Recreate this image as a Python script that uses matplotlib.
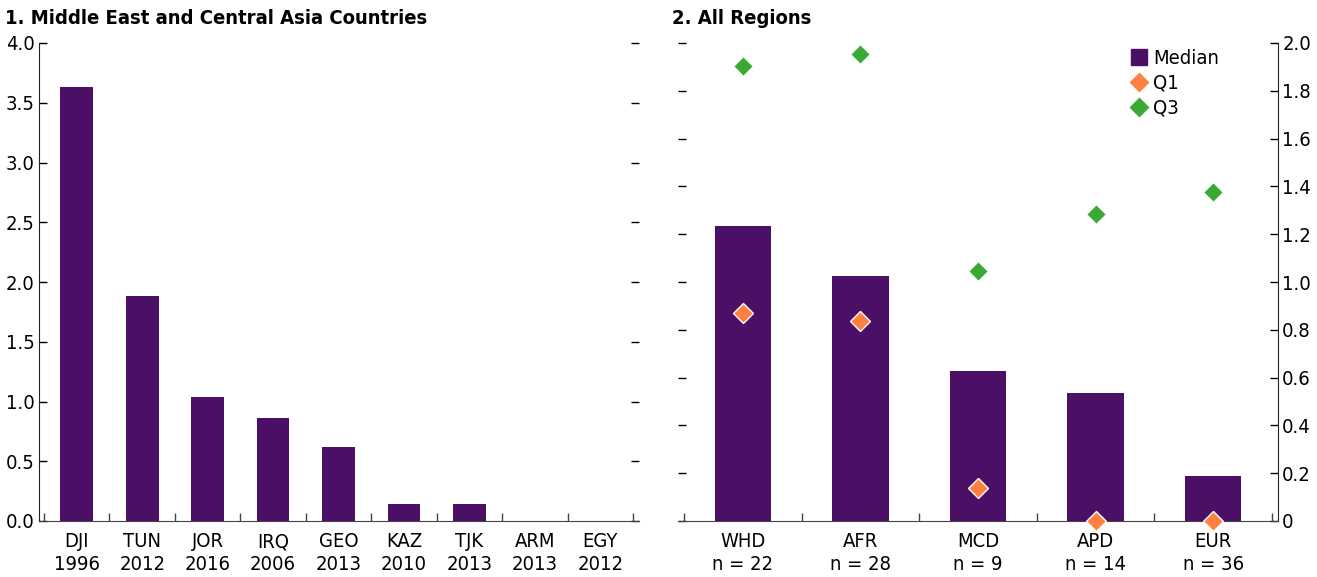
import numpy as np
import matplotlib
matplotlib.use('Agg')
import matplotlib.pyplot as plt
from matplotlib.lines import Line2D

plt.rcParams['font.family'] = ['DejaVu Sans']
plt.rcParams['font.stretch'] = 'condensed'

# panel 1 data
countries = ['DJI', 'TUN', 'JOR', 'IRQ', 'GEO', 'KAZ', 'TJK', 'ARM', 'EGY']
years = ['1996', '2012', '2016', '2006', '2013', '2010', '2013', '2013', '2012']
mcd_values = [3.63, 1.88, 1.04, 0.86, 0.62, 0.14, 0.14, 0.0, 0.0]

# panel 2 data
regions = ['WHD', 'AFR', 'MCD', 'APD', 'EUR']
counts = [22, 28, 9, 14, 36]
median = [1.235, 1.025, 0.628, 0.535, 0.188]
q1 = [0.87, 0.837, 0.138, 0.0, 0.0]
q3 = [1.905, 1.955, 1.046, 1.285, 1.378]

purple = '#4b0f66'
orange = '#ff8040'
green = '#3aaa35'
fs = 14.5

fig = plt.figure(figsize=(13.17, 5.77), dpi=100)
W, H = 1317, 577

def add_ax(x0, x1, y0, y1):
    return fig.add_axes([x0 / W, (H - y1) / H, (x1 - x0) / W, (y1 - y0) / H])

def style(ax, n):
    for s in ['top', 'left', 'right']:
        ax.spines[s].set_visible(False)
    ax.spines['bottom'].set_color('#444444')
    ax.set_xticks(np.arange(n))
    ax.tick_params(axis='x', which='major', length=0, pad=8, labelsize=fs)
    ax.set_xticks(np.arange(n + 1) - 0.5, minor=True)
    ax.tick_params(axis='x', which='minor', direction='in', length=6, width=1, color='#444444')

# ---- left panel
ax1 = add_ax(39, 639, 43, 521)
x = np.arange(len(countries))
ax1.bar(x, mcd_values, width=0.5, color=purple, zorder=2)
ax1.set_xlim(-0.5 - 5 / 65.4, 8.5 + 6 / 65.4)
ax1.set_ylim(0, 4.0)
style(ax1, len(countries))
ax1.spines['left'].set_visible(True)
ax1.spines['left'].set_color('#222222')
ax1.set_xticklabels([c + '\n' + y for c, y in zip(countries, years)], linespacing=1.25)
yt = np.arange(0, 4.01, 0.5)
ax1.set_yticks(yt)
ax1.set_yticklabels(['%.1f' % v for v in yt])
ax1.tick_params(axis='y', direction='in', length=6, width=1, labelsize=fs, pad=3,
                right=True, left=True, labelright=False)

# ---- right panel
ax2 = add_ax(678, 1278, 43, 521)
x2 = np.arange(len(regions))
ax2.bar(x2, median, width=0.48, color=purple, zorder=2)
ax2.plot(x2, q1, linestyle='none', marker='D', markersize=10, color=orange,
         markeredgecolor='white', markeredgewidth=1, zorder=3, clip_on=False)
ax2.plot(x2, q3, linestyle='none', marker='D', markersize=10, color=green,
         markeredgecolor='white', markeredgewidth=1, zorder=3, clip_on=False)
ax2.set_xlim(-0.5 - 6 / 117.6, 4.5 + 6 / 117.6)
ax2.set_ylim(0, 2.0)
style(ax2, len(regions))
ax2.spines['right'].set_visible(True)
ax2.spines['right'].set_color('#222222')
ax2.set_xticklabels([r + '\nn = %d' % n for r, n in zip(regions, counts)], linespacing=1.25)
yt2 = np.arange(0, 2.01, 0.2)
ax2.set_yticks(yt2)
ax2.set_yticklabels(['0'] + ['%.1f' % v for v in yt2[1:]])
ax2.tick_params(axis='y', direction='in', length=6, width=1, labelsize=fs, pad=3,
                right=True, left=True, labelright=True, labelleft=False)

handles = [
    Line2D([], [], linestyle='none', marker='s', markersize=12, color=purple),
    Line2D([], [], linestyle='none', marker='D', markersize=11, color=orange, markeredgecolor='white'),
    Line2D([], [], linestyle='none', marker='D', markersize=11, color=green, markeredgecolor='white'),
]
ax2.legend(handles, ['Median', 'Q1', 'Q3'], loc='upper right', bbox_to_anchor=(0.915, 1.005),
           frameon=False, fontsize=fs, handlelength=0.8, handletextpad=0.3,
           labelspacing=0.3, borderaxespad=0)

fig.text(5 / W, 1 - 18 / H, '1. Middle East and Central Asia Countries', fontsize=fs,
         fontweight='bold', va='center', ha='left')
fig.text(672 / W, 1 - 18 / H, '2. All Regions', fontsize=fs,
         fontweight='bold', va='center', ha='left')

fig.savefig('out.png', dpi=100)
